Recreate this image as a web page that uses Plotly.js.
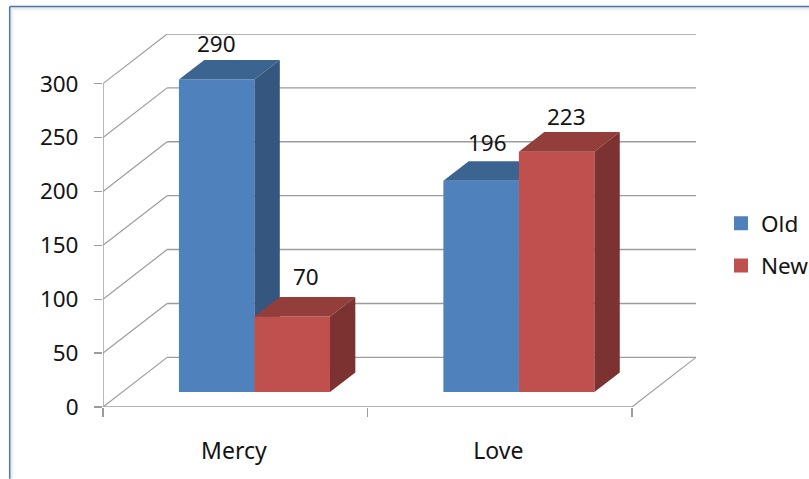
<!DOCTYPE html>
<html><head><meta charset="utf-8">
<script src="https://cdn.plot.ly/plotly-3.0.1.min.js"></script>
<style>html,body{margin:0;padding:0;background:#fff}#c{width:809px;height:479px}</style>
</head><body><div id="c"></div>
<script>
const categories = ['Mercy', 'Love'];
const oldValues = [290, 196];
const newValues = [70, 223];
const seriesNames = ['Old', 'New'];
const yTicks = [0, 50, 100, 150, 200, 250, 300];

const W = 809, H = 479;
const L = 103, R = 696, T = 34, B = 407.3;
const pxPerCat = 264, pxPerVal = 1.0767;
const wallDx = 64 / pxPerCat, wallDy = 49.6 / pxPerVal;
const barW = 75.4 / pxPerCat, barStart = 75.8 / pxPerCat;
const barBase = 15 / pxPerVal;
const depthX = 25.3 / pxPerCat, depthY = 19.5 / pxPerVal;
const edgeX = 1 / pxPerCat, edgeY = 1 / pxPerVal;
const xRange = [0, categories.length + wallDx];
const yRange = [0, 300 + wallDy];
const font = 'Noto Sans, sans-serif', fs = 22.5, txt = '#141414';

const palette = [
  {front: '#4f81bd', top: '#3c6490', side: '#34567f'},
  {front: '#c0504d', top: '#933e3b', side: '#7b3230'}
];

function seriesTraces(vals, s, name, xa, ya) {
  const left = vals.map((_, i) => i + barStart + s * barW);
  const out = [{
    type: 'bar', name, x: left.map(l => l + barW / 2), y: vals.map(v => v - 2 * edgeY),
    base: vals.map(() => barBase + edgeY), width: vals.map(() => barW - 2 * edgeX),
    marker: {color: palette[s].front, line: {color: palette[s].front, width: 2}},
    xaxis: xa, yaxis: ya, legendgroup: name, hoverinfo: 'skip'
  }];
  vals.forEach((v, i) => {
    const x0 = left[i], x1 = x0 + barW, y0 = barBase, y1 = barBase + v;
    out.push({type: 'scatter', mode: 'lines', fill: 'toself', fillcolor: palette[s].top,
      line: {width: 0}, showlegend: false, hoverinfo: 'skip', xaxis: xa, yaxis: ya,
      x: [x0, x1, x1 + depthX, x0 + depthX, x0], y: [y1, y1, y1 + depthY, y1 + depthY, y1]});
    out.push({type: 'scatter', mode: 'lines', fill: 'toself', fillcolor: palette[s].side,
      line: {width: 0}, showlegend: false, hoverinfo: 'skip', xaxis: xa, yaxis: ya,
      x: [x1, x1 + depthX, x1 + depthX, x1, x1], y: [y0, y0 + depthY, y1 + depthY, y1, y0]});
  });
  return out;
}

const data = [
  ...seriesTraces(oldValues, 0, seriesNames[0], 'x', 'y'),
  ...seriesTraces(newValues, 1, seriesNames[1], 'x2', 'y2')
];

const gridColor = '#9c9c9c';
const seg = (x0, y0, x1, y1, w) => ({type: 'line', layer: 'below', xref: 'x', yref: 'y', x0, y0, x1, y1,
  line: {color: gridColor, width: w || 1.2}});
const shapes = [];
yTicks.forEach(t => {
  shapes.push(seg(0, t, wallDx, t + wallDy));
  shapes.push(seg(wallDx, t + wallDy, xRange[1], t + wallDy, 1.4));
});
shapes.push(seg(categories.length, 0, xRange[1], wallDy));
shapes.push(seg(0, 0, 0, 300, 1.4));
shapes.push(seg(0, 0, categories.length, 0, 1.6));

// slide frame with its soft inner shadow
const fx = p => (p - L) / (R - L), fy = p => (B - p) / (B - T);
const frameLine = (off, color, width) => {
  shapes.push({type: 'line', xref: 'paper', yref: 'paper', layer: 'below', x0: fx(9.7 + off), x1: fx(W),
    y0: fy(6.5 + off), y1: fy(6.5 + off), line: {color, width}});
  shapes.push({type: 'line', xref: 'paper', yref: 'paper', layer: 'below', x0: fx(9.7 + off), x1: fx(9.7 + off),
    y0: fy(6.5 + off), y1: fy(H), line: {color, width}});
};
[[4, '#f8f8f8', 1], [3, '#f2f2f2', 1], [2, '#ebebeb', 1], [1.2, '#e2e2e2', 1], [0, '#4a76ad', 1.5]]
  .forEach(f => frameLine(f[0], f[1], f[2]));

const labelShift = {Old: [[0, 0], [6, 3]], New: [[14, 5], [10, 0]]};
const annotations = [];
[[oldValues, 0], [newValues, 1]].forEach(([vals, s]) => vals.forEach((v, i) => {
  const sh = labelShift[seriesNames[s]][i];
  annotations.push({xref: 'x', yref: 'y', x: i + barStart + (s + 0.5) * barW, y: barBase + v,
    text: String(v), showarrow: false, xanchor: 'center', yanchor: 'bottom', yshift: 18 + sh[1], xshift: sh[0],
    font: {family: font, size: fs, color: txt}});
}));

const layout = {
  width: W, height: H, paper_bgcolor: '#fff', plot_bgcolor: 'rgba(0,0,0,0)',
  margin: {l: L, r: W - R, t: T, b: H - B, pad: 0},
  barmode: 'overlay', showlegend: true, shapes, annotations,
  xaxis: {range: xRange, tickmode: 'array', tickvals: categories.map((_, i) => i + 0.495), ticktext: categories,
    ticks: '', showgrid: false, zeroline: false, showline: false, ticklabelstandoff: 28,
    tickfont: {family: font, size: 23, color: txt},
    minor: {tickmode: 'array', tickvals: [0, 1, 2], ticks: 'outside', ticklen: 9, tickcolor: gridColor, tickwidth: 1.4, showgrid: false}},
  yaxis: {range: yRange, tickmode: 'array', tickvals: yTicks, ticks: 'outside', ticklen: 8, tickcolor: gridColor, tickwidth: 1.4,
    showgrid: false, zeroline: false, showline: false, ticklabelstandoff: 11, tickfont: {family: font, size: fs, color: txt}},
  xaxis2: {range: xRange, overlaying: 'x', visible: false, anchor: 'y2'},
  yaxis2: {range: yRange, overlaying: 'y', visible: false, anchor: 'x2'},
  legend: {xref: 'container', yref: 'container', x: 727 / W, y: 1 - 202 / H, xanchor: 'left', yanchor: 'top',
    traceorder: 'grouped', tracegroupgap: 10, indentation: -6, font: {family: font, size: fs, color: txt}, bgcolor: 'rgba(0,0,0,0)', itemwidth: 30}
};
Plotly.newPlot('c', data, layout, {displayModeBar: false, staticPlot: true});
</script></body></html>
